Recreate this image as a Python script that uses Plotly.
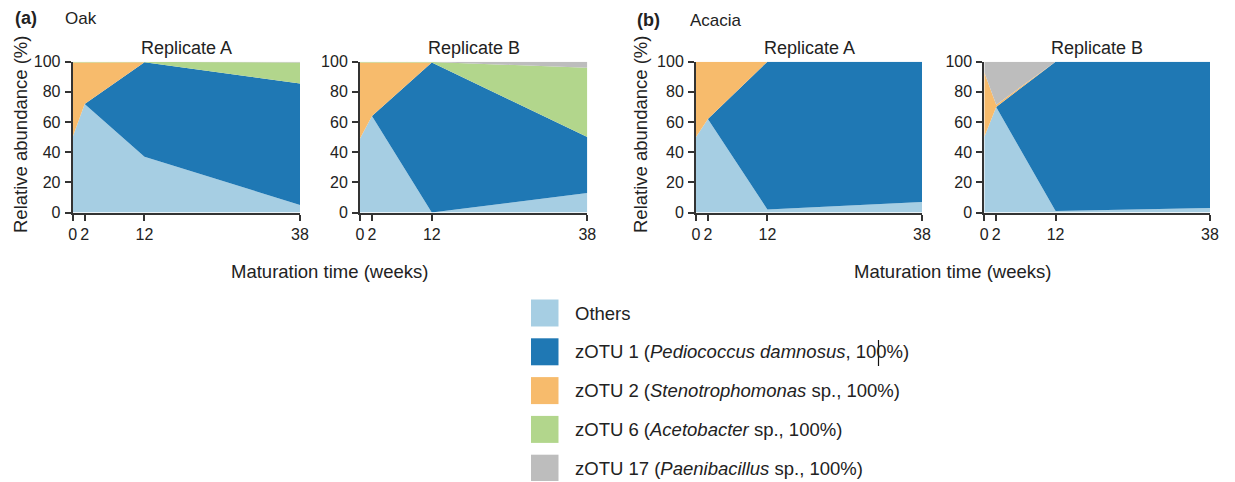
import plotly.graph_objects as go

# Figure size in pixels
W, H = 1234, 481

# Sampling times (weeks of maturation)
weeks = [0, 2, 12, 38]

# Relative abundance (%) per taxon, one list per panel
oak_a_others = [50, 72, 37, 5]
oak_a_zotu1 = [0, 0, 62.7, 80.5]
oak_a_zotu2 = [49.5, 27.5, 0, 0]
oak_a_zotu6 = [0.5, 0.5, 0.3, 14]
oak_a_zotu17 = [0, 0, 0, 0.5]

oak_b_others = [49, 64, 0, 13]
oak_b_zotu1 = [0, 0, 99.5, 37]
oak_b_zotu2 = [50.5, 35.5, 0, 0]
oak_b_zotu6 = [0.5, 0.5, 0.3, 46]
oak_b_zotu17 = [0, 0, 0.2, 4]

acacia_a_others = [50, 62, 2, 7]
acacia_a_zotu1 = [0, 0, 98, 93]
acacia_a_zotu2 = [50, 38, 0, 0]
acacia_a_zotu6 = [0, 0, 0, 0]
acacia_a_zotu17 = [0, 0, 0, 0]

acacia_b_others = [50, 70, 1, 3]
acacia_b_zotu1 = [0, 0, 99, 97]
acacia_b_zotu2 = [43, 1.5, 0, 0]
acacia_b_zotu6 = [0, 0, 0, 0]
acacia_b_zotu17 = [7, 28.5, 0, 0]

taxa_labels = [
    "Others",
    "zOTU 1 (<i>Pediococcus damnosus</i>, 100%)",
    "zOTU 2 (<i>Stenotrophomonas</i> sp., 100%)",
    "zOTU 6 (<i>Acetobacter</i> sp., 100%)",
    "zOTU 17 (<i>Paenibacillus</i> sp., 100%)",
]
taxa_colors = ["#a6cee3", "#1f78b4", "#f7bb6c", "#b2d68c", "#bdbdbd"]

panels = [
    ("Replicate A", [oak_a_others, oak_a_zotu1, oak_a_zotu2, oak_a_zotu6, oak_a_zotu17]),
    ("Replicate B", [oak_b_others, oak_b_zotu1, oak_b_zotu2, oak_b_zotu6, oak_b_zotu17]),
    ("Replicate A", [acacia_a_others, acacia_a_zotu1, acacia_a_zotu2, acacia_a_zotu6, acacia_a_zotu17]),
    ("Replicate B", [acacia_b_others, acacia_b_zotu1, acacia_b_zotu2, acacia_b_zotu6, acacia_b_zotu17]),
]

# Pixel positions of each plotting area (left, right)
x_spans = [(72.7, 300), (360, 587.3), (696, 922), (984.3, 1210)]
y_top, y_bot = 61.7, 212.5


def px(x):
    return x / W


def py(y):
    return 1 - y / H


FONT = "Liberation Sans, Arial, sans-serif"
TXT = "#222222"
AX = "#333333"

fig = go.Figure()
layout = dict(
    width=W, height=H,
    margin=dict(l=0, r=0, t=0, b=0),
    paper_bgcolor="white", plot_bgcolor="white",
    showlegend=False,
    font=dict(family=FONT, color=TXT),
)
annotations = []
shapes = []

for i, ((title, series), (x0, x1)) in enumerate(zip(panels, x_spans), start=1):
    xa = "x" if i == 1 else f"x{i}"
    ya = "y" if i == 1 else f"y{i}"
    for vals, color in zip(series, taxa_colors):
        fig.add_trace(go.Scatter(
            x=weeks, y=vals, xaxis=xa, yaxis=ya,
            stackgroup=f"s{i}", mode="lines",
            line=dict(width=0, color=color), fillcolor=color,
            hoverinfo="skip",
        ))
    axis_common = dict(
        showline=True, linecolor=AX, linewidth=2,
        ticks="outside", ticklen=6, tickwidth=1.5, tickcolor=AX,
        showgrid=False, zeroline=False, automargin=False,
        tickfont=dict(size=16, color=TXT, family=FONT),
    )
    layout["xaxis" if i == 1 else f"xaxis{i}"] = dict(
        axis_common, domain=[px(x0), px(x1)], range=[0, 38],
        tickvals=weeks, ticktext=[str(w) for w in weeks],
        anchor=ya, ticklabelstandoff=0,
    )
    layout["yaxis" if i == 1 else f"yaxis{i}"] = dict(
        axis_common, domain=[py(y_bot), py(y_top)], range=[0, 100],
        tickvals=[0, 20, 40, 60, 80, 100], anchor=xa, ticklabelstandoff=1,
    )
    annotations.append(dict(
        text=title, x=px((x0 + x1) / 2), y=py(48.5), xref="paper", yref="paper",
        xanchor="center", yanchor="middle", showarrow=False,
        font=dict(size=18, color=TXT),
    ))

# Panel labels
for lab, name, xl, xn, yc in [("(a)", "Oak", 13, 63, 18), ("(b)", "Acacia", 635, 688, 20)]:
    annotations.append(dict(text=f"<b>{lab}</b>", x=px(xl), y=py(yc), xref="paper", yref="paper",
                            xanchor="left", yanchor="middle", showarrow=False, font=dict(size=18, color=TXT)))
    annotations.append(dict(text=name, x=px(xn), y=py(yc), xref="paper", yref="paper",
                            xanchor="left", yanchor="middle", showarrow=False, font=dict(size=17, color=TXT)))

# Axis titles
for xc in (20.5, 640.5):
    annotations.append(dict(text="Relative abundance (%)", x=px(xc), y=py(134.5), xref="paper", yref="paper",
                            xanchor="center", yanchor="middle", textangle=-90, showarrow=False,
                            font=dict(size=18.5, color=TXT)))
for xc in (329, 952):
    annotations.append(dict(text="Maturation time (weeks)", x=px(xc), y=py(271), xref="paper", yref="paper",
                            xanchor="center", yanchor="middle", showarrow=False,
                            font=dict(size=18.5, color=TXT)))

# Legend drawn as swatches plus labels
for k, (lab, color) in enumerate(zip(taxa_labels, taxa_colors)):
    yc = 313 + k * 38.8
    shapes.append(dict(type="rect", xref="paper", yref="paper",
                       x0=px(531), x1=px(558.5), y0=py(yc - 13.5), y1=py(yc + 13.5),
                       fillcolor=color, line=dict(width=0)))
    annotations.append(dict(text=lab, x=px(573), y=py(yc), xref="paper", yref="paper",
                            xanchor="left", yanchor="middle", showarrow=False,
                            font=dict(size=18.5, color=TXT)))

# Text caret inside the zOTU 1 label
shapes.append(dict(type="line", xref="paper", yref="paper",
                   x0=px(878.5), x1=px(878.5), y0=py(340), y1=py(366),
                   line=dict(color="#111111", width=1.2)))

layout["annotations"] = annotations
layout["shapes"] = shapes
fig.update_layout(**layout)
fig.write_html("out.html")
